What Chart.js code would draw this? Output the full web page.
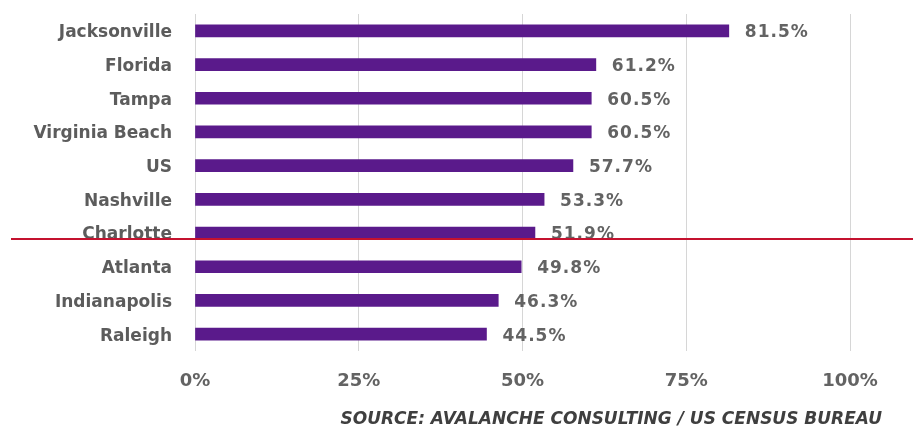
<!DOCTYPE html>
<html>
<head>
<meta charset="utf-8">
<script src="https://cdn.jsdelivr.net/npm/chart.js@4"></script>
<style>
    html, body { margin: 0; padding: 0; background: #ffffff; }
    #wrap { width: 913px; height: 429px; position: relative; }
</style>
</head>
<body>
<div id="wrap"><canvas id="eduChart"></canvas></div>
<script>
// Datos del gráfico
const cities = ['Jacksonville', 'Florida', 'Tampa', 'Virginia Beach', 'US', 'Nashville', 'Charlotte', 'Atlanta', 'Indianapolis', 'Raleigh'];
const shares = [81.5, 61.2, 60.5, 60.5, 57.7, 53.3, 51.9, 49.8, 46.3, 44.5];
const xTicks = [0, 25, 50, 75, 100];
const sourceText = 'SOURCE: AVALANCHE CONSULTING / US CENSUS BUREAU';

const labelFont = '"DejaVu Sans", sans-serif';

// Etiquetas de valor al final de cada barra
const valueLabels = {
    id: 'valueLabels',
    afterDatasetsDraw(chart) {
        const ctx = chart.ctx;
        const meta = chart.getDatasetMeta(0);
        ctx.save();
        ctx.font = 'bold 17px ' + labelFont;
        ctx.letterSpacing = '1px';
        ctx.fillStyle = '#636363';
        ctx.textAlign = 'left';
        ctx.textBaseline = 'middle';
        meta.data.forEach((bar, i) => {
            ctx.fillText(shares[i].toFixed(1) + '%', bar.x + 16, bar.y + 2);
        });
        ctx.restore();
    }
};

// Línea roja que cruza el gráfico (a la altura de Charlotte) y nota de fuente
const overlay = {
    id: 'overlay',
    afterDraw(chart) {
        const ctx = chart.ctx;
        const y = chart.scales.y.getPixelForValue(6) + 6;
        ctx.save();
        ctx.strokeStyle = '#c4122f';
        ctx.lineWidth = 2;
        ctx.beginPath();
        ctx.moveTo(11, y);
        ctx.lineTo(chart.width, y);
        ctx.stroke();

        ctx.font = 'italic bold 17px ' + labelFont;
        ctx.fillStyle = '#3f3f3f';
        ctx.textAlign = 'right';
        ctx.textBaseline = 'middle';
        ctx.fillText(sourceText, chart.width - 31, chart.height - 9);
        ctx.restore();
    }
};

new Chart(document.getElementById('eduChart'), {
    type: 'bar',
    data: {
        labels: cities,
        datasets: [{
            data: shares,
            backgroundColor: '#5a1a8b',
            barThickness: 12
        }]
    },
    options: {
        indexAxis: 'y',
        responsive: true,
        maintainAspectRatio: false,
        animation: false,
        layout: { padding: { top: 14, right: 63, left: 0, bottom: 26 } },
        scales: {
            x: {
                min: 0,
                max: 100,
                afterBuildTicks(scale) {
                    scale.ticks = xTicks.map(v => ({ value: v }));
                },
                afterFit(scale) { scale.height = 52; },
                grid: { color: '#d6d6d6', lineWidth: 1, drawTicks: false },
                border: { display: false },
                ticks: {
                    padding: 20,
                    color: '#636363',
                    font: { family: labelFont, size: 18, weight: 'bold' },
                    callback: v => v + '%'
                }
            },
            y: {
                afterFit(scale) {
                    scale.width = 195;
                    scale.paddingTop = 0;
                    scale.paddingBottom = 0;
                },
                grid: { display: false, drawTicks: false },
                border: { display: false },
                ticks: {
                    padding: 23,
                    labelOffset: 2,
                    color: '#5c5c5c',
                    font: { family: labelFont, size: 17, weight: 'bold' }
                }
            }
        },
        plugins: {
            legend: { display: false },
            tooltip: { enabled: false },
            title: { display: false }
        }
    },
    plugins: [valueLabels, overlay]
});
</script>
</body>
</html>
